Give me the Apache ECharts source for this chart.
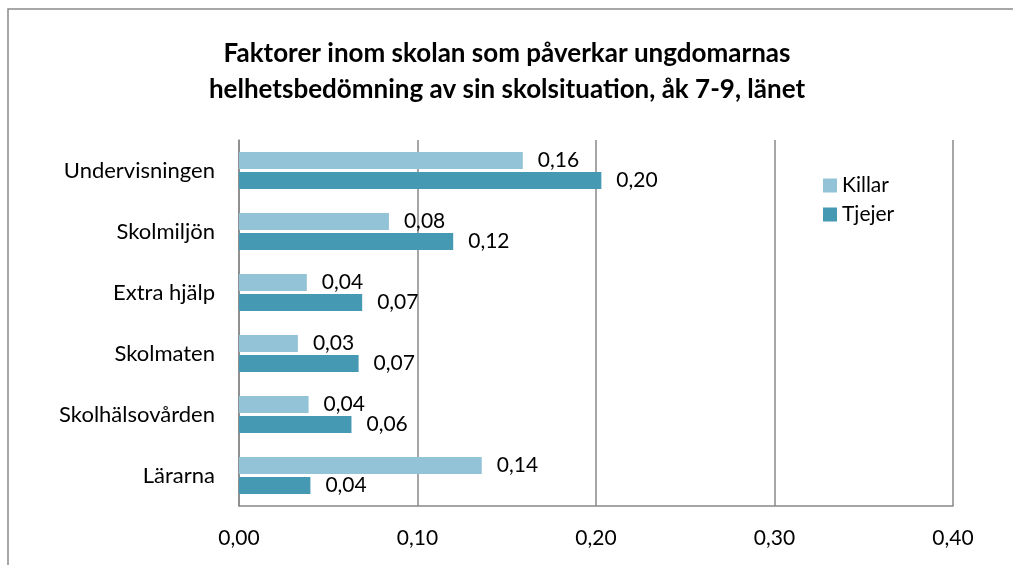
<!DOCTYPE html>
<html>
<head>
<meta charset="utf-8">
<script src="https://cdn.jsdelivr.net/npm/echarts@6/dist/echarts.min.js"></script>
<style>
  html, body { margin: 0; padding: 0; background: #fff; }
  #chart { width: 1013px; height: 565px; }
</style>
</head>
<body>
<div id="chart"></div>
<script>
// Factors within school, age 7-9, county
const categories = ['Undervisningen', 'Skolmiljön', 'Extra hjälp', 'Skolmaten', 'Skolhälsovården', 'Lärarna'];
const killar = [0.159, 0.084, 0.038, 0.033, 0.039, 0.136];
const tjejer = [0.203, 0.120, 0.069, 0.067, 0.063, 0.040];
const seriesNames = ['Killar', 'Tjejer'];
const axisTicks = [0, 0.1, 0.2, 0.3, 0.4];

const FONT = 'Lato';
const fmt = v => v.toFixed(2).replace('.', ',');

const chart = echarts.init(document.getElementById('chart'), null, { renderer: 'canvas' });

const labelStyle = {
  show: true,
  position: 'right',
  distance: 15,
  color: '#000',
  fontFamily: FONT,
  fontSize: 21,
  formatter: p => fmt(p.value)
};

chart.setOption({
  backgroundColor: '#fff',
  animation: false,
  title: {
    text: 'Faktorer inom skolan som påverkar ungdomarnas\nhelhetsbedömning av sin skolsituation, åk 7-9, länet',
    left: 502,
    textAlign: 'center',
    top: 31,
    textStyle: {
      fontFamily: FONT,
      fontWeight: 'bold',
      fontSize: 26,
      lineHeight: 36,
      color: '#000'
    }
  },
  graphic: [{
    type: 'rect',
    shape: { x: 8, y: 9, width: 1100, height: 700 },
    style: { fill: 'none', stroke: '#8a8a8a', lineWidth: 1.5 },
    silent: true
  }],
  legend: {
    orient: 'vertical',
    left: 818,
    top: 170,
    itemWidth: 14,
    itemHeight: 14,
    itemGap: 8,
    icon: 'rect',
    textStyle: { fontFamily: FONT, fontSize: 21, color: '#000' },
    data: seriesNames
  },
  grid: { left: 239, right: 60, top: 140, bottom: 59, containLabel: false },
  xAxis: {
    type: 'value',
    min: axisTicks[0],
    max: axisTicks[axisTicks.length - 1],
    interval: 0.1,
    axisLine: { show: true, lineStyle: { color: '#888', width: 1.5 } },
    axisTick: { show: false },
    splitLine: { show: true, lineStyle: { color: '#888', width: 1.5 } },
    axisLabel: {
      formatter: v => fmt(v),
      fontFamily: FONT,
      fontSize: 21,
      color: '#000',
      margin: 22
    }
  },
  yAxis: {
    type: 'category',
    inverse: true,
    data: categories,
    axisLine: { show: true, lineStyle: { color: '#888', width: 1.5 } },
    axisTick: { show: false },
    axisLabel: {
      fontFamily: FONT,
      fontSize: 22,
      color: '#000',
      margin: 24
    }
  },
  series: [
    {
      name: seriesNames[0],
      type: 'bar',
      data: killar,
      barWidth: 17,
      barGap: '18%',
      itemStyle: { color: '#93c3d6' },
      label: labelStyle
    },
    {
      name: seriesNames[1],
      type: 'bar',
      data: tjejer,
      barWidth: 17,
      barGap: '18%',
      itemStyle: { color: '#4599b2' },
      label: labelStyle
    }
  ]
});
</script>
</body>
</html>
